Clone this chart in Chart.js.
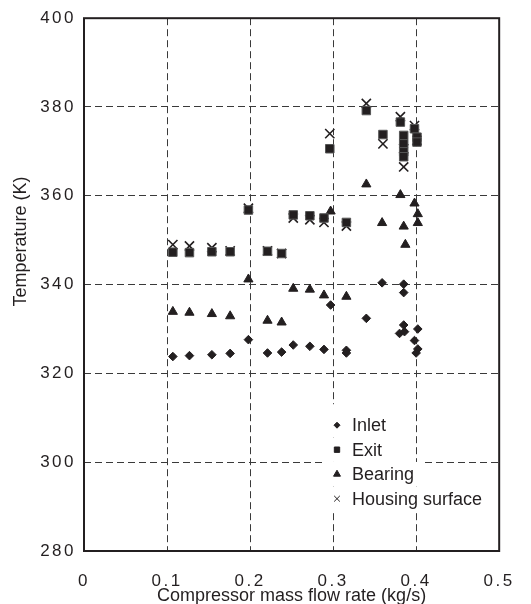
<!DOCTYPE html>
<html>
<head>
<meta charset="utf-8">
<title>Compressor temperatures</title>
<script src="https://cdn.jsdelivr.net/npm/chart.js@4.4.1/dist/chart.umd.min.js"></script>
<style>
  html, body { margin: 0; padding: 0; background: #fff; }
  canvas { display: block; }
</style>
</head>
<body>
<canvas id="chart" width="531" height="604"></canvas>
<script>
const xTickLabels = ['0', '0.1', '0.2', '0.3', '0.4', '0.5'];
const yTickLabels = ['280', '300', '320', '340', '360', '380', '400'];
const xTitle = 'Compressor mass flow rate (kg/s)';
const yTitle = 'Temperature (K)';

const inletFlow = [0.107, 0.127, 0.154, 0.176, 0.198, 0.221, 0.238, 0.252, 0.272, 0.289, 0.297, 0.316, 0.316, 0.340, 0.359, 0.385, 0.385, 0.385, 0.380, 0.386, 0.402, 0.398, 0.402, 0.400];
const inletTemp = [323.8, 324.0, 324.2, 324.5, 327.6, 324.6, 324.8, 326.4, 326.1, 325.4, 335.4, 324.6, 325.2, 332.4, 340.4, 340.1, 338.2, 330.9, 329.0, 329.4, 330.0, 327.4, 325.5, 324.6];

const exitFlow = [0.107, 0.127, 0.154, 0.176, 0.198, 0.221, 0.238, 0.252, 0.272, 0.289, 0.296, 0.316, 0.340, 0.360, 0.381, 0.385, 0.385, 0.385, 0.385, 0.398, 0.401, 0.401];
const exitTemp = [347.3, 347.2, 347.4, 347.4, 356.8, 347.5, 347.0, 355.7, 355.5, 355.0, 370.6, 354.0, 379.2, 373.8, 376.6, 373.6, 371.7, 369.9, 368.8, 375.1, 373.2, 372.1];

const bearingFlow = [0.107, 0.127, 0.154, 0.176, 0.198, 0.221, 0.238, 0.252, 0.272, 0.289, 0.297, 0.316, 0.340, 0.359, 0.381, 0.385, 0.387, 0.398, 0.402, 0.402];
const bearingTemp = [333.9, 333.7, 333.4, 332.9, 341.2, 331.9, 331.5, 339.1, 338.9, 337.6, 356.5, 337.3, 362.6, 353.9, 360.2, 353.1, 349.0, 358.3, 355.9, 353.9];

const housingFlow = [0.107, 0.127, 0.154, 0.176, 0.198, 0.221, 0.238, 0.252, 0.272, 0.289, 0.296, 0.316, 0.340, 0.360, 0.381, 0.385, 0.385, 0.398, 0.401];
const housingTemp = [349.0, 348.7, 348.3, 347.6, 357.2, 347.6, 347.0, 355.0, 354.6, 354.0, 374.0, 353.2, 380.8, 371.7, 377.8, 370.6, 366.5, 375.8, 372.5];

const ink = '#231f20';
const fontFamily = '"Liberation Sans", Arial, Helvetica, sans-serif';

const pts = (xs, ys) => xs.map((x, i) => ({x: x, y: ys[i]}));

// spaced-out digits on the tick labels
const spacedTicks = {
  id: 'spacedTicks',
  beforeDraw(chart) {
    Object.values(chart.scales).forEach(scale => {
      if (scale._spaced) return;
      const orig = scale.drawLabels;
      scale.drawLabels = function (area) {
        const ctx = this.ctx;
        ctx.save();
        ctx.letterSpacing = '2.5px';
        orig.call(this, area);
        ctx.restore();
      };
      scale._spaced = true;
    });
  }
};

const frame = {
  id: 'frame',
  beforeDatasetsDraw(chart) {
    const {ctx, chartArea: a} = chart;
    ctx.save();
    ctx.strokeStyle = ink;
    ctx.lineWidth = 2;
    ctx.strokeRect(a.left, a.top, a.right - a.left, a.bottom - a.top);
    ctx.restore();
  }
};

// y title sits a bit above the middle of the axis in the original
const sideTitle = {
  id: 'sideTitle',
  afterDraw(chart) {
    const ctx = chart.ctx;
    const y = (chart.chartArea.top + chart.chartArea.bottom) / 2 - 43;
    ctx.save();
    ctx.translate(21.5, y);
    ctx.rotate(-Math.PI / 2);
    ctx.font = '18px ' + fontFamily;
    ctx.fillStyle = ink;
    ctx.textAlign = 'center';
    ctx.textBaseline = 'middle';
    ctx.fillText(yTitle, 0, 0);
    ctx.restore();
  }
};

const legendRadius = [3, 3.8, 4, 4];

const innerLegend = {
  id: 'innerLegend',
  afterDatasetsDraw(chart) {
    const {ctx, chartArea: a} = chart;
    ctx.save();
    ctx.font = '18px ' + fontFamily;
    ctx.textBaseline = 'middle';
    chart.data.datasets.forEach((ds, i) => {
      const y = a.top + 407 + i * 24.5;
      const mx = a.left + 253;
      const tx = mx + 15;
      const w = ctx.measureText(ds.label).width;
      const top = i === 0 ? a.top + 386 : y - 12.25;
      const boxLeft = a.left + 239;
      ctx.fillStyle = '#fff';
      ctx.fillRect(boxLeft, top, tx + w + 9 - boxLeft, y + 12.25 - top);
      ctx.fillStyle = ink;
      ctx.strokeStyle = ink;
      Chart.helpers.drawPoint(ctx, {
        pointStyle: ds.pointStyle,
        radius: legendRadius[i],
        borderWidth: ds.pointBorderWidth,
        rotation: 0
      }, mx, y);
      ctx.fillStyle = ink;
      ctx.fillText(ds.label, tx, y + 1);
    });
    ctx.restore();
  }
};

const gridColor = edgeValues => c => (edgeValues.includes(c.tick && c.tick.value) ? 'rgba(0,0,0,0)' : '#3a3a3a');

new Chart(document.getElementById('chart').getContext('2d'), {
  type: 'scatter',
  data: {
    datasets: [
      {
        label: 'Inlet',
        data: pts(inletFlow, inletTemp),
        pointStyle: 'rectRot',
        pointRadius: 4.3,
        pointBorderWidth: 1,
        backgroundColor: ink,
        borderColor: ink
      },
      {
        label: 'Exit',
        data: pts(exitFlow, exitTemp),
        pointStyle: 'rect',
        pointRadius: 6,
        pointBorderWidth: 1,
        backgroundColor: ink,
        borderColor: '#555'
      },
      {
        label: 'Bearing',
        data: pts(bearingFlow, bearingTemp),
        pointStyle: 'triangle',
        pointRadius: 5.3,
        pointBorderWidth: 1,
        backgroundColor: ink,
        borderColor: ink
      },
      {
        label: 'Housing surface',
        data: pts(housingFlow, housingTemp),
        pointStyle: 'crossRot',
        pointRadius: 6.5,
        pointBorderWidth: 1.6,
        backgroundColor: ink,
        borderColor: ink
      }
    ]
  },
  options: {
    responsive: false,
    animation: false,
    devicePixelRatio: 1,
    layout: {padding: {top: 14, right: 22, left: 0, bottom: 0}},
    plugins: {
      legend: {display: false},
      tooltip: {enabled: false}
    },
    scales: {
      x: {
        type: 'linear',
        min: 0,
        max: 0.5,
        afterFit: s => { s.height = 53; },
        grid: {color: gridColor([0, 0.5]), lineWidth: 1, drawTicks: false},
        border: {display: false, dash: [7, 4]},
        ticks: {
          stepSize: 0.1,
          padding: 20,
          color: ink,
          font: {family: fontFamily, size: 17},
          callback: (v, i) => xTickLabels[i]
        },
        title: {
          display: true,
          text: xTitle,
          color: ink,
          font: {family: fontFamily, size: 18},
          padding: {top: 0, bottom: -3}
        }
      },
      y: {
        type: 'linear',
        min: 280,
        max: 400,
        afterFit: s => { s.width = 84; },
        grid: {color: gridColor([280, 400]), lineWidth: 1, drawTicks: false},
        border: {display: false, dash: [7, 4]},
        ticks: {
          stepSize: 20,
          padding: 8,
          color: ink,
          font: {family: fontFamily, size: 17},
          callback: (v, i) => yTickLabels[i]
        },
        title: {display: false}
      }
    }
  },
  plugins: [spacedTicks, frame, innerLegend, sideTitle]
});
</script>
</body>
</html>
